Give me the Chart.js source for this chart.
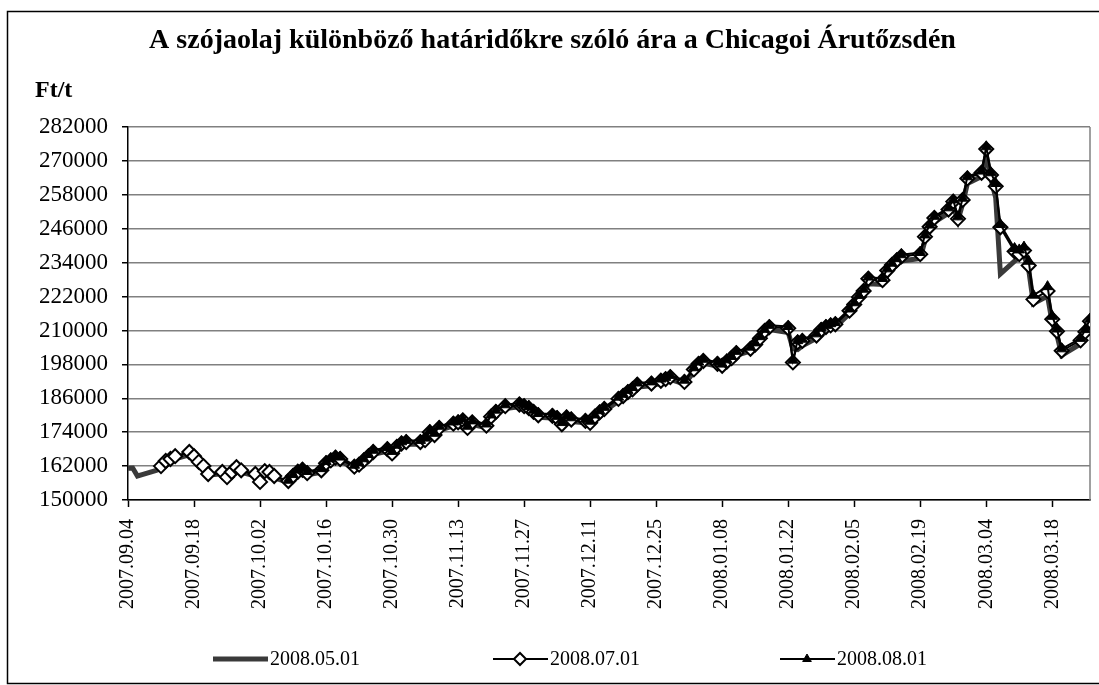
<!DOCTYPE html>
<html>
<head>
<meta charset="utf-8">
<script src="https://cdn.jsdelivr.net/npm/chart.js@4.4.0/dist/chart.umd.min.js"></script>
<style>
  html, body { margin: 0; padding: 0; background: #fff; }
</style>
</head>
<body>
<canvas id="price-chart" width="1099" height="685"></canvas>
<script>
// trading days on the chart
const tradingDays = [
  "2007.09.04","2007.09.05","2007.09.06","2007.09.07","2007.09.10","2007.09.11","2007.09.12","2007.09.13","2007.09.14","2007.09.17",
  "2007.09.18","2007.09.19","2007.09.20","2007.09.21","2007.09.24","2007.09.25","2007.09.26","2007.09.27","2007.09.28",
  "2007.10.01","2007.10.02","2007.10.03","2007.10.04","2007.10.05","2007.10.08","2007.10.09","2007.10.10","2007.10.11","2007.10.12",
  "2007.10.15","2007.10.16","2007.10.17","2007.10.18","2007.10.19","2007.10.22","2007.10.23","2007.10.24","2007.10.25","2007.10.26",
  "2007.10.29","2007.10.30","2007.10.31",
  "2007.11.01","2007.11.02","2007.11.05","2007.11.06","2007.11.07","2007.11.08","2007.11.09","2007.11.12","2007.11.13","2007.11.14",
  "2007.11.15","2007.11.16","2007.11.19","2007.11.20","2007.11.21","2007.11.23","2007.11.26","2007.11.27","2007.11.28","2007.11.29",
  "2007.11.30",
  "2007.12.03","2007.12.04","2007.12.05","2007.12.06","2007.12.07","2007.12.10","2007.12.11","2007.12.12","2007.12.13","2007.12.14",
  "2007.12.17","2007.12.18","2007.12.19","2007.12.20","2007.12.21","2007.12.24","2007.12.26","2007.12.27","2007.12.28","2007.12.31",
  "2008.01.02","2008.01.03","2008.01.04","2008.01.07","2008.01.08","2008.01.09","2008.01.10","2008.01.11","2008.01.14","2008.01.15",
  "2008.01.16","2008.01.17","2008.01.18","2008.01.22","2008.01.23","2008.01.24","2008.01.25","2008.01.28","2008.01.29","2008.01.30",
  "2008.01.31",
  "2008.02.01","2008.02.04","2008.02.05","2008.02.06","2008.02.07","2008.02.08","2008.02.11","2008.02.12","2008.02.13","2008.02.14",
  "2008.02.15","2008.02.19","2008.02.20","2008.02.21","2008.02.22","2008.02.25","2008.02.26","2008.02.27","2008.02.28","2008.02.29",
  "2008.03.03","2008.03.04","2008.03.05","2008.03.06","2008.03.07","2008.03.10","2008.03.11","2008.03.12","2008.03.13","2008.03.14",
  "2008.03.17","2008.03.18","2008.03.19","2008.03.20","2008.03.24","2008.03.25","2008.03.26"
];

// 2008.05.01 contract, Ft/t
const may2008 = [
  161200,161300,158500,159000,160500,161200,162800,163600,164600,166000,
  164800,162800,161300,158800,159300,157600,159300,160900,159800,
  158500,156000,159500,159300,157900,156200,157800,159300,160000,158900,
  159800,162300,163200,164300,163900,161100,161800,163300,164800,166200,
  167200,165900,168000,
  169200,169700,169700,170400,173200,172200,174600,176200,176700,177400,
  174800,176700,175600,178700,180400,182400,183000,182500,181800,180500,
  179300,
  179000,178300,176200,178400,177800,177300,176600,178700,180200,181400,
  185000,186000,187400,188400,190000,190400,191400,192000,192700,191000,
  195300,197400,198400,197400,196600,198200,199300,201200,202700,204200,
  206400,209000,210300,209300,203500,203200,204600,207200,209200,210300,
  210900,
  211200,216000,218200,220700,222800,226500,226300,229500,231500,233200,
  234600,235500,241800,245300,248300,251500,254000,249000,254800,262000,
  264500,272000,263500,257000,230000,234500,236000,236500,231500,219500,
  222200,212600,208300,201200,205200,208200,212000
];

// 2008.07.01 contract, Ft/t
const jul2008 = [
  null,null,null,null,null,162000,163800,164500,165500,167000,
  165500,163500,162000,159200,159900,158100,159900,161600,160500,
  159200,156400,160200,159900,158500,156700,158500,160000,160700,159500,
  160500,163000,164000,165000,164500,161800,162500,164000,165500,167000,
  168000,166500,168800,
  170000,170500,170500,171200,174000,173000,175500,177000,177500,178200,
  175500,177500,176300,179500,181200,183200,183800,183200,182500,181200,
  180000,
  179800,179000,176800,179200,178500,178000,177300,179500,181000,182200,
  185800,186800,188200,189200,190800,191200,192200,192800,193500,191800,
  196200,198200,199200,198200,197500,199000,200200,202000,203500,205000,
  207200,209800,211200,210800,198700,205800,206300,208200,210200,211200,
  211800,
  212200,217000,219200,221800,224000,228300,227800,231200,233200,234800,
  236200,237000,243200,246700,249800,252800,255600,249500,256200,263800,
  265800,274200,265000,261000,246500,238000,237000,238300,233000,221000,
  224000,214000,209700,202800,206500,209500,213300
];

// 2008.08.01 contract, Ft/t
const aug2008 = [
  null,null,null,null,null,null,null,null,null,null,
  null,null,null,null,null,null,null,null,null,
  null,null,null,null,null,157000,159000,160600,161300,160100,
  161100,163600,164600,165600,165200,162300,163100,164600,166100,167600,
  168600,167200,169400,
  170600,171100,171100,171900,174600,173600,176100,177600,178100,178700,
  176100,178000,176900,180100,181800,183700,184300,183700,183100,181800,
  180600,
  180400,179600,177400,179800,179100,178600,177900,180100,181600,182800,
  186400,187400,188800,189800,191400,191800,192800,193400,194100,192400,
  196800,198800,199800,198800,198100,199600,200800,202600,204100,205600,
  207800,210400,211800,211400,199500,206400,206900,208800,210800,211800,
  212400,
  212800,217600,219800,222400,224600,228900,228400,231800,233800,235400,
  236800,237600,243800,247300,250400,253400,256200,250200,256800,264400,
  266400,275000,265800,262000,247500,239000,238500,239500,234500,222500,
  225500,215000,210500,203500,207200,210300,214000
];

const seriesNames = ["2008.05.01", "2008.07.01", "2008.08.01"];
const chartTitle = "A szójaolaj különböző határidőkre szóló ára a Chicagoi Árutőzsdén";
const unitLabel = "Ft/t";
const firstDay = "2007.09.04";
const lastDay = "2008.03.26";
const yMin = 150000, yMax = 282000, yStep = 12000;
const xStepDays = 14;

const serif = "'Liberation Serif', 'Times New Roman', serif";

function dayNumber(s) {
  const [y, m, d] = s.split(".").map(Number);
  return Date.UTC(y, m - 1, d) / 86400000;
}
const day0 = dayNumber(firstDay);
const pad = n => (n < 10 ? "0" : "") + n;
function dayLabel(n) {
  const t = new Date((day0 + n) * 86400000);
  return t.getUTCFullYear() + "." + pad(t.getUTCMonth() + 1) + "." + pad(t.getUTCDate());
}
function toPoints(values) {
  return tradingDays
    .map((d, i) => ({ x: dayNumber(d) - day0, y: values[i] }))
    .filter(p => p.y !== null);
}

const decorations = {
  id: "decorations",
  beforeDraw(chart) {
    const ctx = chart.ctx;
    ctx.save();
    ctx.fillStyle = "#fff";
    ctx.fillRect(0, 0, chart.width, chart.height);
    ctx.strokeStyle = "#000";
    ctx.lineWidth = 1.5;
    ctx.strokeRect(7.5, 11.5, 1100, 672);
    ctx.restore();
  },
  beforeDatasetsDraw(chart) {
    const { ctx, chartArea } = chart;
    ctx.save();
    ctx.strokeStyle = "#808080";
    ctx.lineWidth = 1.5;
    ctx.beginPath();
    ctx.moveTo(chartArea.right, chartArea.top);
    ctx.lineTo(chartArea.right, chartArea.bottom);
    ctx.stroke();
    ctx.restore();
  },
  afterDraw(chart) {
    const ctx = chart.ctx;
    ctx.save();
    ctx.fillStyle = "#000";
    ctx.font = "bold 24px " + serif;
    ctx.textBaseline = "alphabetic";
    ctx.fillText(unitLabel, 35, 97);

    // legend
    const y = 659;
    const items = [
      { x: 213, ds: chart.data.datasets[0] },
      { x: 493, ds: chart.data.datasets[1] },
      { x: 780, ds: chart.data.datasets[2] }
    ];
    ctx.font = "20px " + serif;
    items.forEach(it => {
      const ds = it.ds;
      ctx.strokeStyle = ds.borderColor;
      ctx.lineWidth = ds.borderWidth;
      ctx.beginPath();
      ctx.moveTo(it.x, y);
      ctx.lineTo(it.x + 55, y);
      ctx.stroke();
      if (ds.pointRadius > 0) {
        ctx.fillStyle = ds.pointBackgroundColor;
        ctx.strokeStyle = ds.pointBorderColor;
        ctx.lineWidth = ds.pointBorderWidth;
        Chart.helpers.drawPoint(ctx, {
          pointStyle: ds.pointStyle,
          radius: ds.pointRadius - 1,
          borderWidth: ds.pointBorderWidth,
          rotation: 0
        }, it.x + 27, y);
      }
      ctx.fillStyle = "#000";
      ctx.textBaseline = "middle";
      ctx.fillText(ds.label, it.x + 57, y + 1);
    });
    ctx.restore();
  }
};

new Chart(document.getElementById("price-chart"), {
  type: "line",
  data: {
    datasets: [
      {
        label: seriesNames[0],
        data: toPoints(may2008),
        borderColor: "#3a3a3a",
        borderWidth: 5,
        pointRadius: 0,
        tension: 0,
        order: 3
      },
      {
        label: seriesNames[1],
        data: toPoints(jul2008),
        borderColor: "#000",
        borderWidth: 2,
        pointStyle: "rectRot",
        pointRadius: 7,
        pointBackgroundColor: "#fff",
        pointBorderColor: "#000",
        pointBorderWidth: 2,
        tension: 0,
        order: 2
      },
      {
        label: seriesNames[2],
        data: toPoints(aug2008),
        borderColor: "#000",
        borderWidth: 2,
        pointStyle: "triangle",
        pointRadius: 6,
        pointBackgroundColor: "#000",
        pointBorderColor: "#000",
        pointBorderWidth: 1,
        tension: 0,
        order: 1
      }
    ]
  },
  options: {
    responsive: false,
    animation: false,
    devicePixelRatio: 1,
    layout: { padding: { left: 8, right: 2, top: 12, bottom: 75 } },
    plugins: {
      legend: { display: false },
      tooltip: { enabled: false },
      title: {
        display: true,
        text: chartTitle,
        color: "#000",
        font: { family: serif, size: 28, weight: "bold" },
        padding: { top: 12, bottom: 69.4 }
      }
    },
    scales: {
      x: {
        type: "linear",
        min: 0,
        max: dayNumber(lastDay) - day0,
        afterFit(scale) { scale.height = 110; },
        grid: { drawOnChartArea: false, tickLength: 7, tickColor: "#000", tickWidth: 1.5 },
        border: { color: "#000", width: 1.5 },
        ticks: {
          stepSize: xStepDays,
          includeBounds: false,
          autoSkip: false,
          minRotation: 90,
          maxRotation: 90,
          padding: 12,
          color: "#000",
          font: { family: serif, size: 20 },
          callback: v => dayLabel(v)
        }
      },
      y: {
        min: yMin,
        max: yMax,
        afterFit(scale) { scale.width = 120; },
        grid: { color: "#808080", lineWidth: 1.5, tickLength: 6, tickColor: "#000" },
        border: { color: "#000", width: 1.5 },
        ticks: {
          stepSize: yStep,
          padding: 14,
          color: "#000",
          font: { family: serif, size: 23 },
          callback: v => String(v)
        }
      }
    }
  },
  plugins: [decorations]
});
</script>
</body>
</html>
